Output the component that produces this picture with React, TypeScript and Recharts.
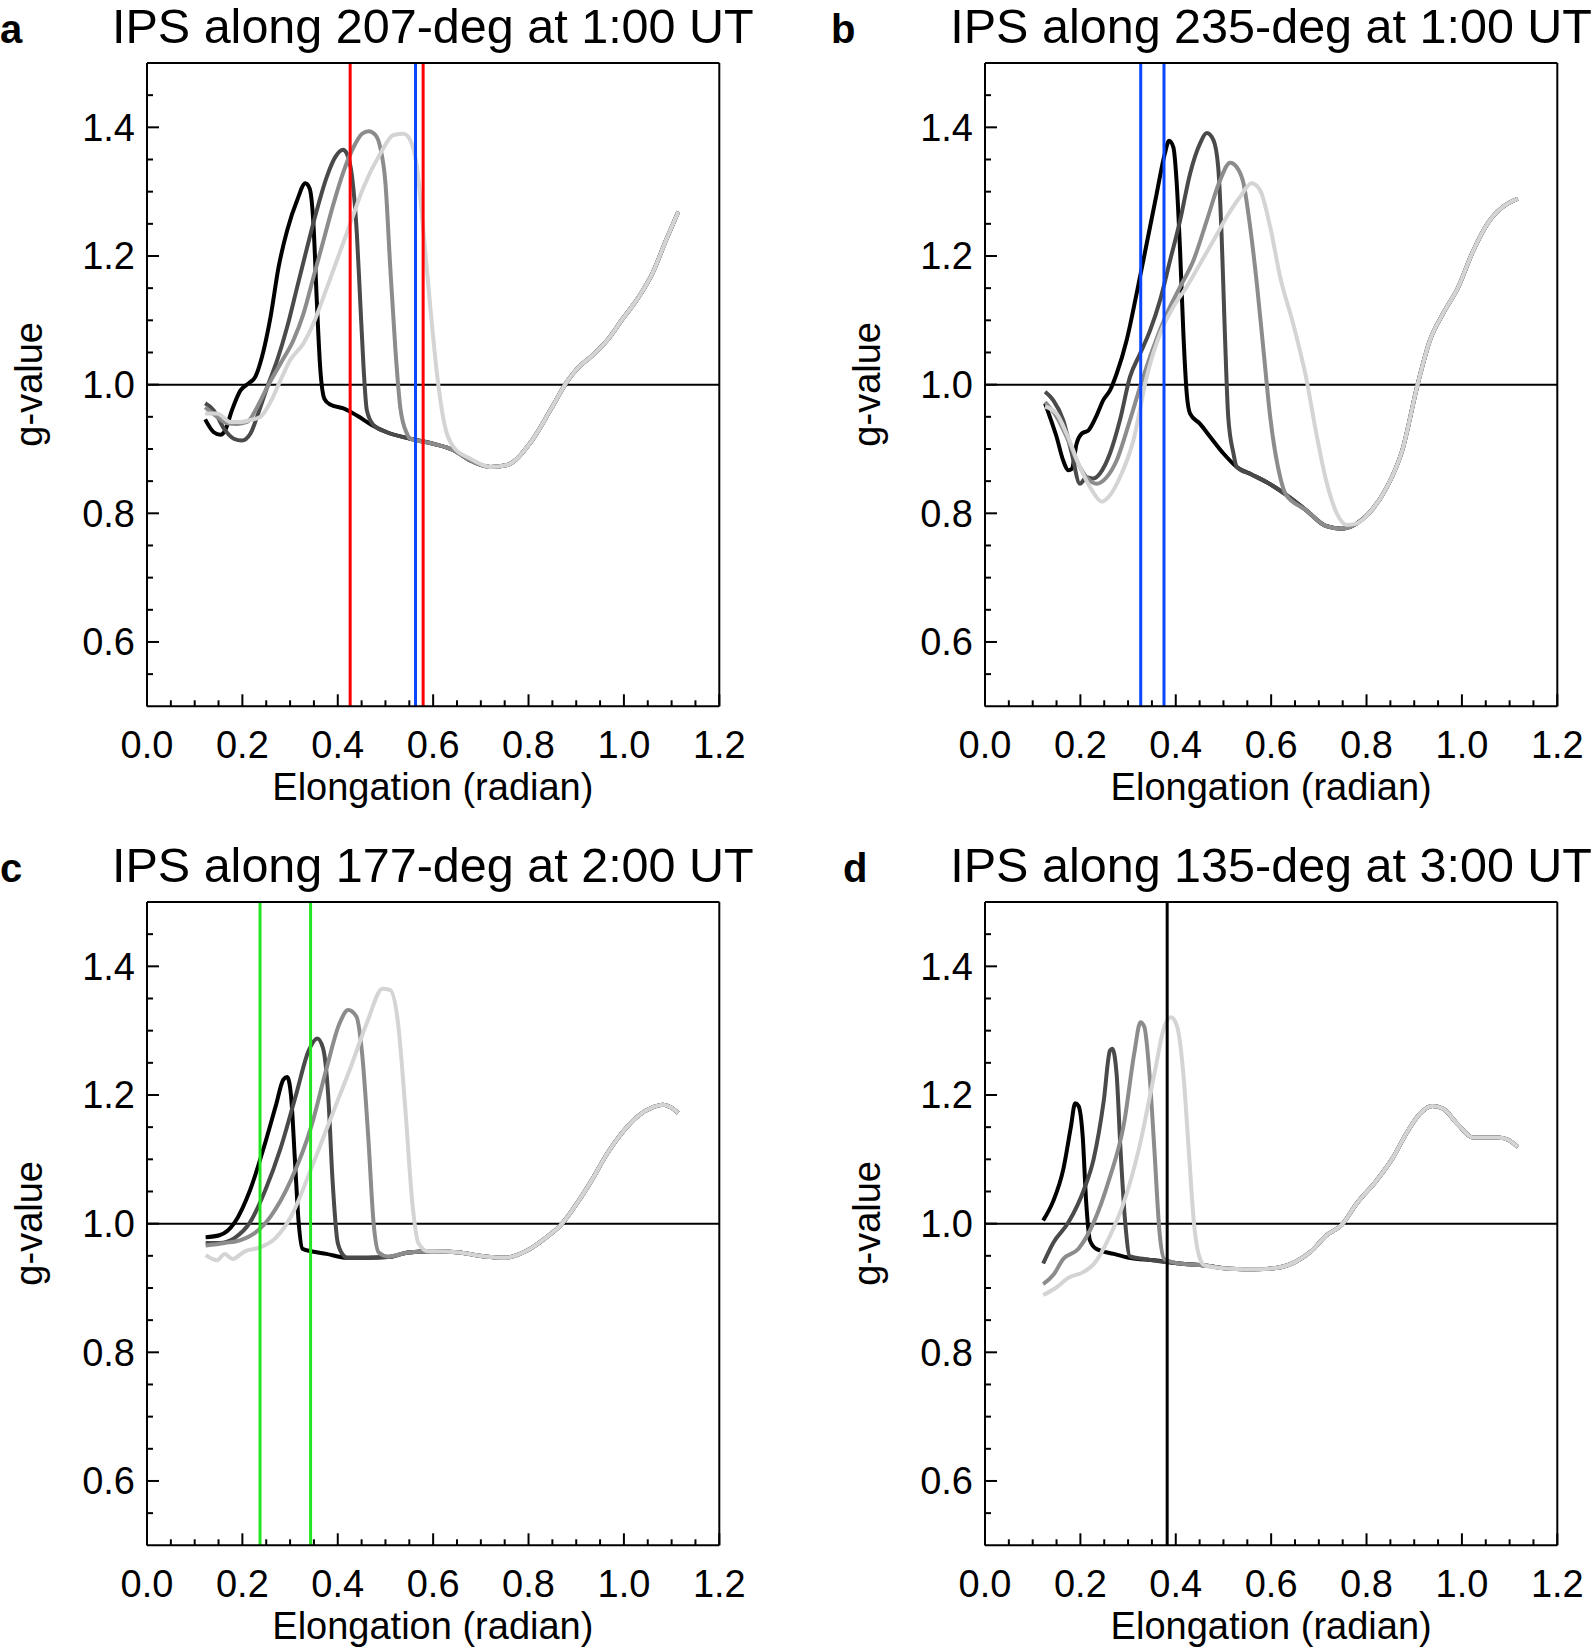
import React from 'react'
import { LineChart, Line, XAxis, YAxis, ReferenceLine } from 'recharts'

type Pt = [number, number]

// ---- panel a: 207-deg, 1:00 UT
const A_BLACK: Pt[] = [
  [0.122, 0.946], [0.140, 0.926], [0.154, 0.922], [0.164, 0.929], [0.178, 0.960], [0.196, 0.991],
  [0.213, 1.002], [0.227, 1.012], [0.241, 1.043], [0.259, 1.105], [0.276, 1.183], [0.294, 1.240],
  [0.315, 1.287], [0.332, 1.313], [0.341, 1.305], [0.349, 1.250], [0.356, 1.131], [0.363, 1.028],
  [0.372, 0.978],
]
const A_DARK: Pt[] = [
  [0.122, 0.971], [0.140, 0.960], [0.161, 0.932], [0.182, 0.916], [0.199, 0.913], [0.217, 0.924],
  [0.234, 0.957], [0.252, 0.996], [0.273, 1.038], [0.294, 1.090], [0.315, 1.152], [0.336, 1.214],
  [0.356, 1.271], [0.377, 1.323], [0.395, 1.354], [0.411, 1.365], [0.419, 1.359], [0.430, 1.323],
  [0.440, 1.235], [0.447, 1.131], [0.454, 1.028], [0.461, 0.960], [0.475, 0.937],
]
const A_GRAY: Pt[] = [
  [0.122, 0.965], [0.147, 0.950], [0.168, 0.940], [0.189, 0.939], [0.210, 0.942], [0.231, 0.965],
  [0.252, 0.996], [0.280, 1.033], [0.307, 1.069], [0.328, 1.110], [0.349, 1.167], [0.370, 1.224],
  [0.391, 1.281], [0.412, 1.331], [0.433, 1.369], [0.451, 1.390], [0.465, 1.394], [0.479, 1.388],
  [0.489, 1.369], [0.500, 1.313], [0.510, 1.183], [0.521, 1.053], [0.531, 0.965], [0.545, 0.924],
]
const A_LIGHT: Pt[] = [
  [0.122, 0.955], [0.147, 0.955], [0.175, 0.942], [0.196, 0.942], [0.217, 0.945], [0.238, 0.950],
  [0.259, 0.973], [0.280, 1.007], [0.300, 1.038], [0.328, 1.064], [0.349, 1.095], [0.370, 1.136],
  [0.398, 1.193], [0.426, 1.250], [0.454, 1.307], [0.489, 1.359], [0.517, 1.388], [0.538, 1.390],
  [0.552, 1.380], [0.566, 1.338], [0.580, 1.235], [0.594, 1.121], [0.608, 1.017], [0.622, 0.945],
  [0.643, 0.903], [0.678, 0.885],
]
const A_TAIL: Pt[] = [
  [0.384, 0.969], [0.412, 0.963], [0.440, 0.952], [0.472, 0.937], [0.503, 0.926], [0.552, 0.916],
  [0.601, 0.908], [0.643, 0.898], [0.678, 0.882], [0.720, 0.872], [0.755, 0.875], [0.804, 0.910],
  [0.847, 0.962], [0.880, 1.004], [0.901, 1.024], [0.933, 1.045], [0.965, 1.069], [0.997, 1.102],
  [1.029, 1.134], [1.061, 1.175], [1.088, 1.224], [1.114, 1.269],
]

// ---- panel b: 235-deg, 1:00 UT
const B_BLACK: Pt[] = [
  [0.126, 0.971], [0.136, 0.950], [0.150, 0.919], [0.164, 0.882], [0.175, 0.867], [0.182, 0.869],
  [0.192, 0.908], [0.203, 0.924], [0.217, 0.929], [0.234, 0.952], [0.248, 0.976], [0.262, 0.991],
  [0.276, 1.017], [0.297, 1.069], [0.318, 1.142], [0.339, 1.219], [0.360, 1.297], [0.377, 1.359],
  [0.386, 1.379], [0.395, 1.369], [0.402, 1.313], [0.409, 1.209], [0.416, 1.079], [0.423, 0.986],
  [0.430, 0.955], [0.451, 0.939], [0.472, 0.919], [0.500, 0.893],
]
const B_DARK: Pt[] = [
  [0.126, 0.989], [0.143, 0.976], [0.164, 0.945], [0.182, 0.893], [0.199, 0.846], [0.213, 0.856],
  [0.227, 0.854], [0.241, 0.862], [0.262, 0.893], [0.283, 0.945], [0.304, 1.012], [0.325, 1.048],
  [0.346, 1.084], [0.367, 1.131], [0.388, 1.193], [0.409, 1.255], [0.430, 1.328], [0.451, 1.375],
  [0.465, 1.391], [0.479, 1.380], [0.489, 1.338], [0.496, 1.235], [0.503, 1.079], [0.510, 0.950],
  [0.521, 0.893],
]
const B_GRAY: Pt[] = [
  [0.126, 0.973], [0.150, 0.950], [0.171, 0.919], [0.192, 0.882], [0.213, 0.856], [0.234, 0.846],
  [0.255, 0.856], [0.276, 0.882], [0.304, 0.945], [0.325, 0.996], [0.353, 1.058], [0.381, 1.110],
  [0.409, 1.152], [0.437, 1.193], [0.465, 1.255], [0.493, 1.318], [0.514, 1.345], [0.528, 1.338],
  [0.542, 1.313], [0.556, 1.245], [0.570, 1.157], [0.584, 1.053], [0.598, 0.950], [0.619, 0.856],
]
const B_LIGHT: Pt[] = [
  [0.126, 0.966], [0.150, 0.955], [0.171, 0.924], [0.199, 0.872], [0.224, 0.836], [0.245, 0.818],
  [0.262, 0.828], [0.283, 0.856], [0.311, 0.913], [0.339, 1.012], [0.367, 1.079], [0.395, 1.121],
  [0.423, 1.152], [0.451, 1.188], [0.479, 1.224], [0.507, 1.261], [0.535, 1.292], [0.559, 1.313],
  [0.577, 1.302], [0.598, 1.245], [0.619, 1.167], [0.646, 1.095], [0.673, 1.012], [0.695, 0.923],
  [0.716, 0.849], [0.737, 0.801], [0.758, 0.782],
]
const B_TAIL: Pt[] = [
  [0.528, 0.872], [0.560, 0.860], [0.589, 0.849], [0.631, 0.829], [0.673, 0.805], [0.716, 0.780],
  [0.748, 0.776], [0.779, 0.784], [0.811, 0.805], [0.843, 0.841], [0.875, 0.898], [0.907, 1.000],
  [0.933, 1.069], [0.960, 1.110], [0.992, 1.151], [1.023, 1.207], [1.055, 1.252], [1.087, 1.277],
  [1.117, 1.289],
]

// ---- panel c: 177-deg, 2:00 UT
const C_BLACK: Pt[] = [
  [0.123, 0.979], [0.152, 0.982], [0.184, 1.002], [0.216, 1.052], [0.248, 1.126], [0.270, 1.183],
  [0.286, 1.224], [0.294, 1.228], [0.302, 1.199], [0.310, 1.101], [0.318, 1.002], [0.326, 0.961],
]
const C_DARK: Pt[] = [
  [0.123, 0.970], [0.152, 0.970], [0.184, 0.978], [0.216, 1.002], [0.248, 1.052], [0.280, 1.117],
  [0.312, 1.199], [0.339, 1.269], [0.357, 1.288], [0.369, 1.273], [0.380, 1.199], [0.389, 1.068],
  [0.400, 0.970], [0.414, 0.949],
]
const C_GRAY: Pt[] = [
  [0.123, 0.966], [0.163, 0.970], [0.195, 0.974], [0.227, 0.986], [0.259, 1.011], [0.302, 1.068],
  [0.344, 1.150], [0.376, 1.240], [0.403, 1.310], [0.422, 1.332], [0.439, 1.322], [0.451, 1.265],
  [0.464, 1.134], [0.475, 1.002], [0.486, 0.955], [0.505, 0.949],
]
const C_LIGHT: Pt[] = [
  [0.123, 0.951], [0.147, 0.943], [0.163, 0.953], [0.179, 0.945], [0.205, 0.957], [0.237, 0.963],
  [0.270, 0.978], [0.302, 1.011], [0.344, 1.085], [0.387, 1.167], [0.430, 1.249], [0.462, 1.314],
  [0.494, 1.365], [0.510, 1.363], [0.526, 1.314], [0.542, 1.175], [0.556, 1.035], [0.569, 0.970],
  [0.590, 0.957],
]
const C_TAIL: Pt[] = [
  [0.344, 0.957], [0.376, 0.953], [0.419, 0.947], [0.462, 0.947], [0.505, 0.948], [0.548, 0.955],
  [0.601, 0.957], [0.655, 0.955], [0.708, 0.949], [0.751, 0.947], [0.794, 0.957], [0.836, 0.978],
  [0.868, 0.998], [0.901, 1.031], [0.933, 1.068], [0.965, 1.109], [0.997, 1.142], [1.029, 1.167],
  [1.061, 1.181], [1.082, 1.185], [1.098, 1.181], [1.114, 1.172],
]

// ---- panel d: 135-deg, 3:00 UT
const D_BLACK: Pt[] = [
  [0.122, 1.005], [0.143, 1.035], [0.164, 1.084], [0.180, 1.150], [0.189, 1.187], [0.196, 1.183],
  [0.205, 1.134], [0.212, 1.035], [0.220, 0.974], [0.233, 0.961], [0.270, 0.953], [0.302, 0.947],
  [0.355, 0.943],
]
const D_DARK: Pt[] = [
  [0.122, 0.938], [0.143, 0.970], [0.175, 1.002], [0.207, 1.052], [0.228, 1.101], [0.249, 1.191],
  [0.262, 1.269], [0.267, 1.272], [0.276, 1.232], [0.284, 1.117], [0.294, 1.002], [0.304, 0.949],
  [0.334, 0.945],
]
const D_GRAY: Pt[] = [
  [0.122, 0.906], [0.143, 0.920], [0.164, 0.945], [0.196, 0.961], [0.228, 1.002], [0.260, 1.068],
  [0.292, 1.158], [0.313, 1.265], [0.326, 1.313], [0.334, 1.306], [0.345, 1.232], [0.355, 1.117],
  [0.366, 0.986], [0.376, 0.945],
]
const D_LIGHT: Pt[] = [
  [0.122, 0.889], [0.148, 0.900], [0.175, 0.916], [0.207, 0.925], [0.228, 0.937], [0.260, 0.978],
  [0.292, 1.035], [0.323, 1.117], [0.355, 1.232], [0.376, 1.306], [0.390, 1.321], [0.403, 1.306],
  [0.416, 1.232], [0.427, 1.117], [0.438, 1.002], [0.451, 0.945],
]
const D_TAIL: Pt[] = [
  [0.408, 0.938], [0.461, 0.935], [0.514, 0.930], [0.567, 0.929], [0.610, 0.931], [0.652, 0.941],
  [0.684, 0.957], [0.716, 0.982], [0.748, 0.998], [0.779, 1.031], [0.822, 1.068], [0.854, 1.101],
  [0.885, 1.142], [0.912, 1.171], [0.938, 1.183], [0.960, 1.179], [0.992, 1.154], [1.023, 1.134],
  [1.045, 1.134], [1.076, 1.134], [1.098, 1.130], [1.117, 1.119],
]

// vertical markers
const RED = '#ff0000'
const BLUE = '#0a47ff'
const GREEN = '#22e622'
const A_MARKS = [{ x: 0.426, c: RED }, { x: 0.563, c: BLUE }, { x: 0.579, c: RED }]
const B_MARKS = [{ x: 0.3265, c: BLUE }, { x: 0.3753, c: BLUE }]
const C_MARKS = [{ x: 0.237, c: GREEN }, { x: 0.343, c: GREEN }]
const D_MARKS = [{ x: 0.382, c: '#000000' }]

const SHADES = ['#000000', '#4a4a4a', '#8c8c8c', '#d4d4d4']
const X_MAJOR = [0, 0.2, 0.4, 0.6, 0.8, 1.0, 1.2]
const X_MINOR = [0.05, 0.1, 0.15, 0.25, 0.3, 0.35, 0.45, 0.5, 0.55, 0.65, 0.7, 0.75, 0.85, 0.9, 0.95, 1.05, 1.1, 1.15]
const Y_MAJOR = [0.6, 0.8, 1.0, 1.2, 1.4]
const Y_MINOR = [0.55, 0.65, 0.7, 0.75, 0.85, 0.9, 0.95, 1.05, 1.1, 1.15, 1.25, 1.3, 1.35, 1.45]
const X_TICKS = [...X_MAJOR, ...X_MINOR].sort((a, b) => a - b)
const Y_TICKS = [...Y_MAJOR, ...Y_MINOR].sort((a, b) => a - b)

const FONT = '"Liberation Sans", Arial, Helvetica, sans-serif'
const PLOT_W = 572.3
const PLOT_H = 643.3
const M = { top: 19, right: 39, bottom: 20, left: 40 }
const DX = 838.3
const DY = 839

const PANELS = [
  { id: 'a', title: 'IPS along 207-deg at 1:00 UT', px: 146.7, py: 62.7, lx: 0, curves: [A_BLACK, A_DARK, A_GRAY, A_LIGHT], tail: A_TAIL, marks: A_MARKS },
  { id: 'b', title: 'IPS along 235-deg at 1:00 UT', px: 146.7 + DX, py: 62.7, lx: 831, curves: [B_BLACK, B_DARK, B_GRAY, B_LIGHT], tail: B_TAIL, marks: B_MARKS },
  { id: 'c', title: 'IPS along 177-deg at 2:00 UT', px: 146.7, py: 62.7 + DY, lx: 0, curves: [C_BLACK, C_DARK, C_GRAY, C_LIGHT], tail: C_TAIL, marks: C_MARKS },
  { id: 'd', title: 'IPS along 135-deg at 3:00 UT', px: 146.7 + DX, py: 62.7 + DY, lx: 843, curves: [D_BLACK, D_DARK, D_GRAY, D_LIGHT], tail: D_TAIL, marks: D_MARKS },
]

const axisLine = { stroke: '#000', strokeWidth: 2 }
const isMajor = (v: number) => Math.abs(v * 5 - Math.round(v * 5)) < 1e-6
const tickLen = (v: number) => (isMajor(v) ? 12 : 6)

// inward IDL-style ticks: long at labelled values, short in between
function BottomTick({ x, y, payload }: any) {
  const v = payload.value
  return (
    <g>
      <line x1={x} y1={y} x2={x} y2={y - tickLen(v)} stroke="#000" strokeWidth={2} />
      {isMajor(v) && (
        <text x={x} y={y + 52} textAnchor="middle" fontSize={38} fontFamily={FONT} fill="#000">{v.toFixed(1)}</text>
      )}
    </g>
  )
}
function TopTick({ x, y, payload }: any) {
  return <line x1={x} y1={y} x2={x} y2={y + tickLen(payload.value)} stroke="#000" strokeWidth={2} />
}
function LeftTick({ x, y, payload }: any) {
  const v = payload.value
  return (
    <g>
      <line x1={x} y1={y} x2={x + tickLen(v)} y2={y} stroke="#000" strokeWidth={2} />
      {isMajor(v) && (
        <text x={x - 12} y={y + 13.5} textAnchor="end" fontSize={38} fontFamily={FONT} fill="#000">{v.toFixed(1)}</text>
      )}
    </g>
  )
}
function RightTick({ x, y, payload }: any) {
  return <line x1={x} y1={y} x2={x - tickLen(payload.value)} y2={y} stroke="#000" strokeWidth={2} />
}

function Panel({ p }: { p: typeof PANELS[number] }) {
  const series = p.curves.map(head => {
    const last = head[head.length - 1][0]
    return head.concat(p.tail.filter(t => t[0] > last)).map(([x, g]) => ({ x, g }))
  })

  return (
    <div style={{ position: 'absolute', left: p.px - 100, top: p.py - 20 }}>
      <LineChart width={PLOT_W + 140} height={PLOT_H + 100} margin={M}>
        <XAxis dataKey="x" type="number" domain={[0, 1.2]} ticks={X_TICKS} interval={0} height={60}
          tickSize={0} tickMargin={0} tickLine={false} tick={<BottomTick />} axisLine={axisLine} />
        <XAxis xAxisId="t" orientation="top" type="number" domain={[0, 1.2]} ticks={X_TICKS} interval={0} height={1}
          tickSize={0} tickMargin={0} tickLine={false} tick={<TopTick />} axisLine={axisLine} />
        <YAxis type="number" domain={[0.5, 1.5]} ticks={Y_TICKS} interval={0} width={60}
          tickSize={0} tickMargin={0} tickLine={false} tick={<LeftTick />} axisLine={axisLine} />
        <YAxis yAxisId="r" orientation="right" type="number" domain={[0.5, 1.5]} ticks={Y_TICKS} interval={0} width={1}
          tickSize={0} tickMargin={0} tickLine={false} tick={<RightTick />} axisLine={axisLine} />

        <ReferenceLine y={1} stroke="#000" strokeWidth={2} />
        {series.map((d, i) => (
          <Line key={i} data={d} dataKey="g" type="monotoneX" stroke={SHADES[i]} strokeWidth={4}
            dot={false} isAnimationActive={false} />
        ))}
        {p.marks.map((m, i) => (
          <ReferenceLine key={'m' + i} x={m.x} stroke={m.c} strokeWidth={3} />
        ))}
      </LineChart>
    </div>
  )
}

export default function App() {
  return (
    <div style={{ position: 'absolute', left: 0, top: 0, width: 1594, height: 1649, background: '#fff' }}>
      {PANELS.map(p => <Panel key={p.id} p={p} />)}
      <svg width={1594} height={1649} style={{ position: 'absolute', left: 0, top: 0, pointerEvents: 'none' }}
        fontFamily={FONT} fill="#000">
        {PANELS.map(p => {
          const cx = p.px + PLOT_W / 2
          const cy = p.py + PLOT_H / 2
          return (
            <g key={p.id}>
              <text x={p.lx} y={p.py - 20} fontSize={40} fontWeight="bold">{p.id}</text>
              <text x={cx} y={p.py - 20} fontSize={48.5} textAnchor="middle">{p.title}</text>
              <text x={cx} y={p.py + PLOT_H + 94} fontSize={38} textAnchor="middle">Elongation (radian)</text>
              <text transform={`translate(${p.px - 104.7},${cy}) rotate(-90)`} fontSize={38} textAnchor="middle">g-value</text>
            </g>
          )
        })}
      </svg>
    </div>
  )
}
